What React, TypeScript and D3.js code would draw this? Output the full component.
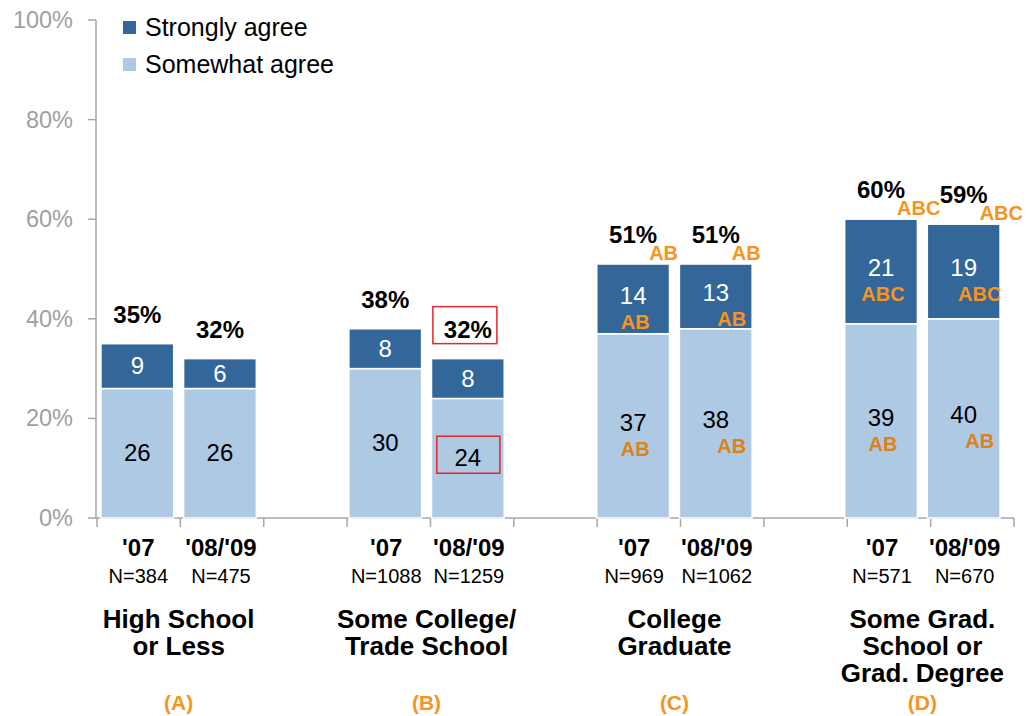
import React from "react";
import * as d3 from "d3";

const groupNames = [
  ["High School", "or Less"],
  ["Some College/", "Trade School"],
  ["College", "Graduate"],
  ["Some Grad.", "School or", "Grad. Degree"],
];
const groupLetters = ["(A)", "(B)", "(C)", "(D)"];
const years = ["'07", "'08/'09"];
const somewhatAgree = [26, 26, 30, 24, 37, 38, 39, 40];
const stronglyAgree = [9, 6, 8, 8, 14, 13, 21, 19];
const totals = [35, 32, 38, 32, 51, 51, 60, 59];
const sampleSizes = [384, 475, 1088, 1259, 969, 1062, 571, 670];
const sigTotal = ["", "", "", "", "AB", "AB", "ABC", "ABC"];
const sigStrong = ["", "", "", "", "AB", "AB", "ABC", "ABC"];
const sigSomewhat = ["", "", "", "", "AB", "AB", "AB", "AB"];
const highlighted = [false, false, false, true, false, false, false, false];
const yTicks = [0, 20, 40, 60, 80, 100];
const legendItems = ["Strongly agree", "Somewhat agree"];

const W = 1029;
const H = 716;
const FONT = "'Liberation Sans', Arial, Helvetica, sans-serif";
const DARK = "#336699";
const LIGHT = "#ADC9E4";
const ORANGE = "#F7941D";
const ORANGE_ON_LIGHT = "#DE8118";
const AXIS = "#A6A6A6";

// 11 slots: two bars per group, separated by a gap slot
const slots: string[] = [];
groupNames.forEach((_, g) => {
  slots.push(`b${g * 2}`, `b${g * 2 + 1}`);
  if (g < groupNames.length - 1) slots.push(`gap${g}`);
});

export default function App() {
  const y = d3.scaleLinear().domain([0, 100]).range([518, 20]);
  const xAxis = d3.scaleBand().domain(slots).range([97, 1014]).padding(0);
  const xBar = d3
    .scaleBand()
    .domain(slots)
    .range([96, 1005])
    .paddingInner(0.12)
    .paddingOuter(0.06);
  const bw = xBar.bandwidth();

  const bars = somewhatAgree.map((s, i) => {
    const x0 = xBar(`b${i}`)!;
    const cx = x0 + bw / 2;
    const yearIdx = i % 2;
    return { i, s, st: stronglyAgree[i], x0, cx, yearIdx };
  });

  const boundaries = slots.map((s) => xAxis(s)!).concat([xAxis.range()[1]]);

  return (
    <div style={{ position: "absolute", left: 0, top: 0 }}>
      <svg width={W} height={H} style={{ display: "block", background: "#fff" }} fontFamily={FONT}>
        {/* y axis */}
        <line x1={96} x2={96} y1={y(100)} y2={y(0)} stroke={AXIS} strokeWidth={1.5} />
        {yTicks.map((t) => (
          <g key={t}>
            <line x1={88} x2={96} y1={y(t)} y2={y(t)} stroke={AXIS} strokeWidth={1.5} />
            <text x={73} y={y(t) + 8} textAnchor="end" fontSize={23.5} fill="#A0A0A0">
              {t}%
            </text>
          </g>
        ))}
        {/* x axis */}
        <line x1={96} x2={1014} y1={y(0)} y2={y(0)} stroke={AXIS} strokeWidth={1.5} />
        {boundaries.map((bx, k) => (
          <line key={k} x1={bx} x2={bx} y1={y(0)} y2={y(0) + 9} stroke={AXIS} strokeWidth={1.5} />
        ))}

        {/* bars */}
        {bars.map((b) => {
          const total = b.s + b.st;
          const topY = y(total);
          const midY = y(b.s);
          const lightMid = (y(0) + midY) / 2;
          const darkMid = (topY + midY) / 2;
          const sigDx = b.yearIdx === 1 ? 16 : 2;
          return (
            <g key={b.i}>
              <rect x={b.x0} y={midY} width={bw} height={y(0) - midY} fill={LIGHT} stroke="#fff" strokeWidth={1.5} />
              <rect x={b.x0} y={topY} width={bw} height={midY - topY} fill={DARK} stroke="#fff" strokeWidth={1.5} />
              {/* strongly agree value */}
              <text x={b.cx} y={darkMid + (sigStrong[b.i] ? 5 : 8)} textAnchor="middle" fontSize={24} fill="#fff">
                {b.st}
              </text>
              {sigStrong[b.i] && (
                <text x={b.cx + sigDx} y={darkMid + 30} textAnchor="middle" fontSize={20} fontWeight="bold" fill={ORANGE}>
                  {sigStrong[b.i]}
                </text>
              )}
              {/* somewhat agree value */}
              <text x={b.cx} y={lightMid + (sigSomewhat[b.i] ? 5 : 8)} textAnchor="middle" fontSize={24} fill="#000">
                {b.s}
              </text>
              {sigSomewhat[b.i] && (
                <text x={b.cx + sigDx} y={lightMid + 30} textAnchor="middle" fontSize={20} fontWeight="bold" fill={ORANGE_ON_LIGHT}>
                  {sigSomewhat[b.i]}
                </text>
              )}
              {/* total */}
              <text x={b.cx} y={topY - 21} textAnchor="middle" fontSize={24} fontWeight="bold" fill="#000">
                {totals[b.i]}%
              </text>
              {sigTotal[b.i] && (
                <text x={b.cx + 16} y={topY - 4} textAnchor="start" fontSize={20} fontWeight="bold" fill={ORANGE}>
                  {sigTotal[b.i]}
                </text>
              )}
              {highlighted[b.i] && (
                <>
                  <rect x={b.cx - 35} y={topY - 52} width={64} height={37} fill="none" stroke="#E8262A" strokeWidth={1.5} />
                  <rect x={b.cx - 31} y={lightMid - 22} width={63} height={37} fill="none" stroke="#E8262A" strokeWidth={1.5} />
                </>
              )}
              {/* year & N */}
              <text x={b.cx + 1} y={556} textAnchor="middle" fontSize={24} fontWeight="bold" fill="#000">
                {years[b.yearIdx]}
              </text>
              <text x={b.cx + 1} y={583} textAnchor="middle" fontSize={20} fill="#000">
                N={sampleSizes[b.i]}
              </text>
            </g>
          );
        })}

        {/* group labels */}
        {groupNames.map((lines, g) => {
          const cx = (xBar(`b${g * 2}`)! + xBar(`b${g * 2 + 1}`)! + bw) / 2;
          return (
            <g key={g}>
              {lines.map((ln, k) => (
                <text key={k} x={cx} y={628 + k * 27} textAnchor="middle" fontSize={26} fontWeight="bold" fill="#000">
                  {ln}
                </text>
              ))}
              <text x={cx} y={710} textAnchor="middle" fontSize={21} fontWeight="bold" fill={ORANGE}>
                {groupLetters[g]}
              </text>
            </g>
          );
        })}

        {/* legend */}
        {legendItems.map((name, k) => (
          <g key={name}>
            <rect x={123} y={21 + k * 37} width={13} height={13} fill={k === 0 ? DARK : LIGHT} />
            <text x={145} y={36 + k * 37} fontSize={25} fill="#000">
              {name}
            </text>
          </g>
        ))}
      </svg>
    </div>
  );
}
